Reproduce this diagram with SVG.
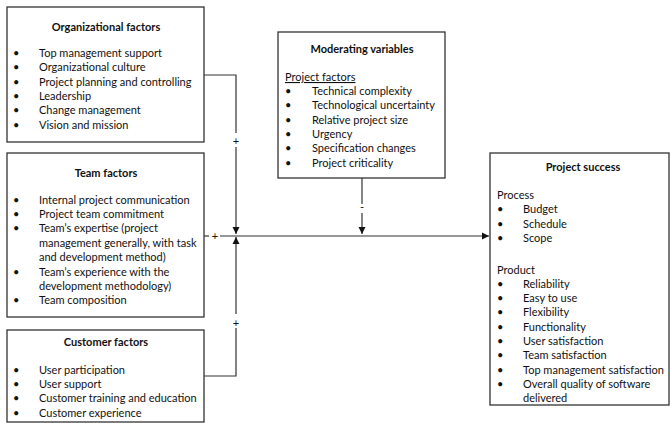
<svg xmlns="http://www.w3.org/2000/svg" width="670" height="423" viewBox="0 0 670 423">
<style>
.box{fill:#fff;stroke:#333;stroke-width:1.3}
.t{font-family:Lato,"Liberation Sans",sans-serif;font-size:11px;fill:#111}
.b{font-weight:bold}
.c{text-anchor:middle}
.ln{stroke:#333;stroke-width:1.2;fill:none}
</style>
<defs>
<marker id="ah" markerWidth="8" markerHeight="8" refX="7" refY="4" orient="auto" markerUnits="userSpaceOnUse">
<path d="M0,0.5 L7,4 L0,7.5 Z" fill="#111"/>
</marker>
</defs>
<rect width="670" height="423" fill="#fff"/>
<g id="org">
<rect class="box" x="7" y="7" width="197" height="135"/>
<text class="t b c" x="106" y="31">Organizational factors</text>
<g class="t">
<text x="13" y="57">•</text><text x="39" y="57">Top management support</text>
<text x="13" y="71">•</text><text x="39" y="71">Organizational culture</text>
<text x="13" y="86">•</text><text x="39" y="86">Project planning and controlling</text>
<text x="13" y="100">•</text><text x="39" y="100">Leadership</text>
<text x="13" y="114">•</text><text x="39" y="114">Change management</text>
<text x="13" y="129">•</text><text x="39" y="129">Vision and mission</text>
</g>
</g>
<g id="team">
<rect class="box" x="7" y="153" width="197" height="164"/>
<text class="t b c" x="106" y="177">Team factors</text>
<g class="t">
<text x="13" y="204">•</text><text x="39" y="204">Internal project communication</text>
<text x="13" y="218">•</text><text x="39" y="218">Project team commitment</text>
<text x="13" y="232">•</text><text x="39" y="232">Team’s expertise (project</text>
<text x="39" y="247">management generally, with task</text>
<text x="39" y="261">and development method)</text>
<text x="13" y="276">•</text><text x="39" y="276">Team’s experience with the</text>
<text x="39" y="290">development methodology)</text>
<text x="13" y="304">•</text><text x="39" y="304">Team composition</text>
</g>
</g>
<g id="customer">
<rect class="box" x="7" y="330" width="197" height="92"/>
<text class="t b c" x="106" y="346">Customer factors</text>
<g class="t">
<text x="13" y="374">•</text><text x="39" y="374">User participation</text>
<text x="13" y="388">•</text><text x="39" y="388">User support</text>
<text x="13" y="402">•</text><text x="39" y="402">Customer training and education</text>
<text x="13" y="417">•</text><text x="39" y="417">Customer experience</text>
</g>
</g>
<g id="moderating">
<rect class="box" x="278" y="32" width="167" height="146"/>
<text class="t b c" x="362" y="53">Moderating variables</text>
<g class="t">
<text x="285" y="81" text-decoration="underline">Project factors</text>
<text x="285" y="95">•</text><text x="312" y="95">Technical complexity</text>
<text x="285" y="109">•</text><text x="312" y="109">Technological uncertainty</text>
<text x="285" y="124">•</text><text x="312" y="124">Relative project size</text>
<text x="285" y="138">•</text><text x="312" y="138">Urgency</text>
<text x="285" y="152">•</text><text x="312" y="152">Specification changes</text>
<text x="285" y="167">•</text><text x="312" y="167">Project criticality</text>
</g>
</g>
<g id="success">
<rect class="box" x="490" y="153" width="179" height="252"/>
<text class="t b c" x="583" y="171">Project success</text>
<g class="t">
<text x="497" y="199">Process</text>
<text x="497" y="213">•</text><text x="523" y="213">Budget</text>
<text x="497" y="228">•</text><text x="523" y="228">Schedule</text>
<text x="497" y="242">•</text><text x="523" y="242">Scope</text>
<text x="497" y="274">Product</text>
<text x="497" y="288">•</text><text x="523" y="288">Reliability</text>
<text x="497" y="302">•</text><text x="523" y="302">Easy to use</text>
<text x="497" y="316">•</text><text x="523" y="316">Flexibility</text>
<text x="497" y="331">•</text><text x="523" y="331">Functionality</text>
<text x="497" y="345">•</text><text x="523" y="345">User satisfaction</text>
<text x="497" y="359">•</text><text x="523" y="359">Team satisfaction</text>
<text x="497" y="374">•</text><text x="523" y="374">Top management satisfaction</text>
<text x="497" y="388">•</text><text x="523" y="388">Overall quality of software</text>
<text x="523" y="402">delivered</text>
</g>
</g>
<g id="connectors">
<path class="ln" d="M204,75 H236 V133"/>
<path class="ln" d="M236,147 V234" marker-end="url(#ah)"/>
<path class="ln" d="M204,376 H236 V328"/>
<path class="ln" d="M236,314 V237" marker-end="url(#ah)"/>
<path class="ln" d="M204,236 H209"/>
<path class="ln" d="M220,236 H489" marker-end="url(#ah)"/>
<path class="ln" d="M362,178 V204"/>
<path class="ln" d="M362,213 V234" marker-end="url(#ah)"/>
<g class="t c">
<text x="236" y="145">+</text>
<text x="236" y="327">+</text>
<text x="215" y="240">+</text>
<text x="362" y="211">-</text>
</g>
</g>
</svg>
